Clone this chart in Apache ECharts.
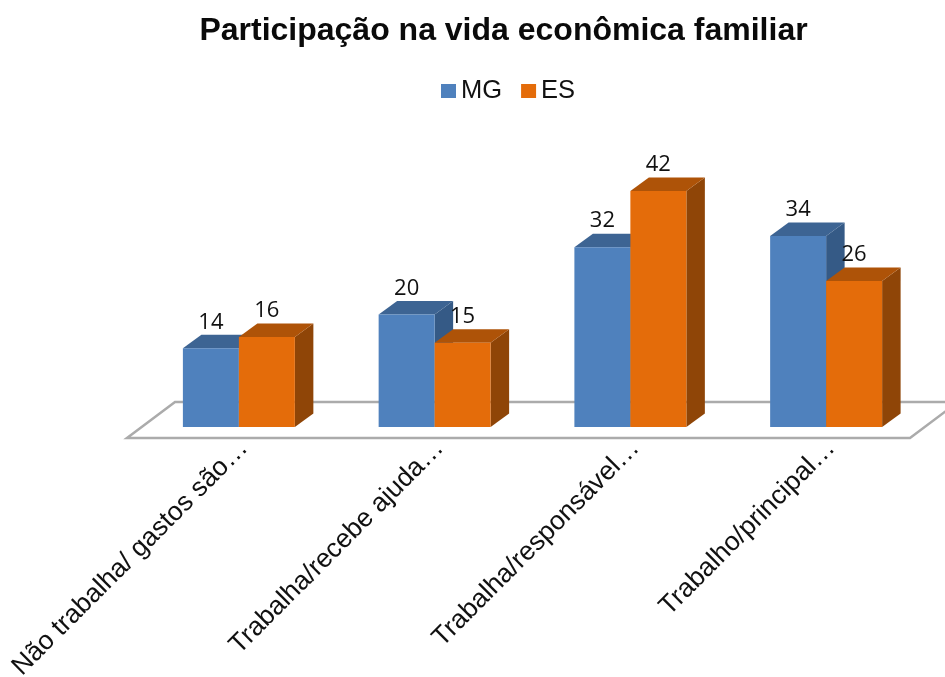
<!DOCTYPE html>
<html>
<head>
<meta charset="utf-8">
<style>html,body{margin:0;padding:0;background:#fff}#c{width:945px;height:677px}</style>
<script src="https://cdn.jsdelivr.net/npm/echarts@6/dist/echarts.min.js"></script>
</head>
<body>
<div id="c"></div>
<script>
const categories = ['Não trabalha/ gastos são…', 'Trabalha/recebe ajuda…', 'Trabalha/responsável…', 'Trabalho/principal…'];
const mgValues = [14, 20, 32, 34];
const esValues = [16, 15, 42, 26];
const titleText = 'Participação na vida econômica familiar';

const depthX = 18.5, depthY = 13.5, barShare = 0.286;
const palette = {
  MG: {front: '#4F81BD', top: '#3D6493', side: '#355A86'},
  ES: {front: '#E46C0A', top: '#AE5308', side: '#8F4507'}
};

function barRenderer(name, slot) {
  const c = palette[name];
  return function (params, api) {
    const base = api.coord([api.value(0), 0]);
    const head = api.coord([api.value(0), api.value(1)]);
    const w = api.size([1, 0])[0] * barShare;
    const x0 = base[0] + slot * w, x1 = x0 + w, y0 = base[1], y1 = head[1];
    return {
      type: 'group',
      children: [
        {type: 'polygon', shape: {points: [[x1, y0], [x1 + depthX, y0 - depthY], [x1 + depthX, y1 - depthY], [x1, y1]]}, style: {fill: c.side}},
        {type: 'polygon', shape: {points: [[x0, y1], [x0 + depthX, y1 - depthY], [x1 + depthX, y1 - depthY], [x1, y1]]}, style: {fill: c.top}},
        {type: 'rect', shape: {x: x0, y: y1, width: w, height: y0 - y1}, style: {fill: c.front}},
        {type: 'text', z2: 50, style: {
          x: (x0 + x1) / 2, y: y1 - 26, text: String(api.value(1)),
          fill: '#111', font: '22px "Open Sans"', align: 'center', verticalAlign: 'middle'
        }}
      ]
    };
  };
}

function floorRenderer(params) {
  const g = params.coordSys;
  const l = g.x - 14, r = g.x + g.width - 14, front = g.y + g.height + 11, back = front - 36;
  return {
    type: 'polygon',
    shape: {points: [[l, front], [r, front], [r + 48, back], [l + 48, back]]},
    style: {fill: '#fff', stroke: '#ABABAB', lineWidth: 2.5, lineJoin: 'miter'}
  };
}

const chart = echarts.init(document.getElementById('c'), null, {renderer: 'canvas'});
chart.setOption({
  animation: false,
  backgroundColor: '#fff',
  title: {
    text: titleText, left: 498.5, top: 10, textAlign: 'center',
    textStyle: {fontFamily: 'Liberation Sans', fontWeight: 'bold', fontSize: 32, color: '#0a0a0a'}
  },
  legend: {
    data: [
      {name: 'MG', itemStyle: {color: palette.MG.front}},
      {name: 'ES', itemStyle: {color: palette.ES.front}}
    ],
    left: 436, top: 73, icon: 'rect', itemWidth: 15, itemHeight: 14, itemGap: 19,
    textStyle: {fontFamily: 'Liberation Sans', fontSize: 25.5, color: '#111'}
  },
  grid: {left: 141, right: 21, top: 146, bottom: 250, outerBoundsMode: 'none'},
  xAxis: {
    type: 'category', data: categories,
    axisLine: {show: false}, axisTick: {show: false}, splitLine: {show: false},
    axisLabel: {
      interval: 0, rotate: 45, margin: 22, hideOverlap: false, padding: [0, -7, 0, 0],
      fontFamily: 'Liberation Sans', fontSize: 26.5, color: '#111'
    }
  },
  yAxis: {type: 'value', min: 0, max: 50, show: false, splitLine: {show: false}},
  series: [
    {type: 'custom', name: 'floor', z: 1, silent: true, renderItem: floorRenderer, data: [0], encode: {x: 0}},
    {type: 'custom', name: 'MG', z: 2, renderItem: barRenderer('MG', -1), itemStyle: {color: palette.MG.front},
     data: mgValues.map((v, i) => [i, v]), encode: {x: 0, y: 1}},
    {type: 'custom', name: 'ES', z: 3, renderItem: barRenderer('ES', 0), itemStyle: {color: palette.ES.front},
     data: esValues.map((v, i) => [i, v]), encode: {x: 0, y: 1}}
  ]
});
</script>
</body>
</html>
